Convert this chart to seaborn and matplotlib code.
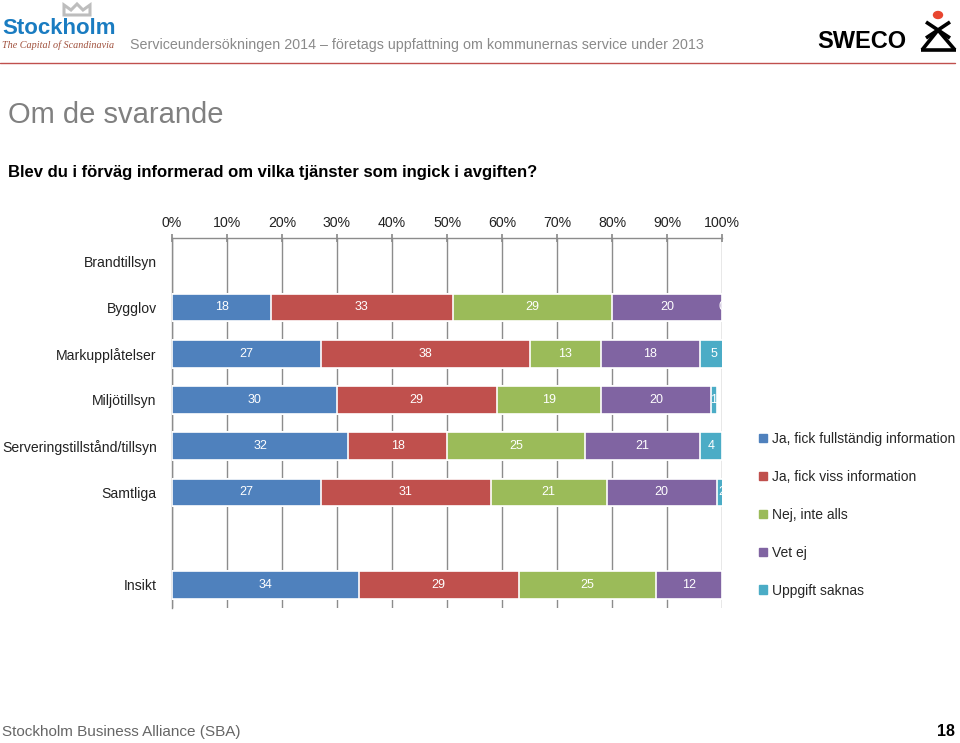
import numpy as np
import pandas as pd
import matplotlib.pyplot as plt
import matplotlib.patches as mpatches
from matplotlib.lines import Line2D
import seaborn as sns

# ── Data ───────────────────────────────────────────────────────────────────────

categories = ["Brandtillsyn", "Bygglov", "Markupplåtelser", "Miljötillsyn",
              "Serveringstillstånd/tillsyn", "Samtliga", " ", "Insikt"]
answers = ["Ja, fick fullständig information", "Ja, fick viss information",
           "Nej, inte alls", "Vet ej", "Uppgift saknas"]

# one list per answer, aligned with the rows that have data
rows_with_data = ["Bygglov", "Markupplåtelser", "Miljötillsyn",
                  "Serveringstillstånd/tillsyn", "Samtliga", "Insikt"]
ja_full = [18, 27, 30, 32, 27, 34]
ja_viss = [33, 38, 29, 18, 31, 29]
nej = [29, 13, 19, 25, 21, 25]
vet_ej = [20, 18, 20, 21, 20, 12]
saknas = [0, 5, 1, 4, 2, np.nan]

x_ticks = list(range(0, 101, 10))
colors = ["#4F81BD", "#C0504D", "#9BBB59", "#8064A2", "#4BACC6"]

# ── Setup ──────────────────────────────────────────────────────────────────────

sns.set_theme(style="white")
plt.rcParams["font.family"] = ["Liberation Sans", "DejaVu Sans"]

fig = plt.figure(figsize=(9.6, 7.43), dpi=100)
ax = fig.add_axes([172 / 960, 1 - 608 / 743, 550 / 960, 370 / 743])

df = pd.DataFrame({"cat": rows_with_data, answers[0]: ja_full, answers[1]: ja_viss,
                   answers[2]: nej, answers[3]: vet_ej, answers[4]: saknas})
cum = df[answers].fillna(0).cumsum(axis=1)

# stacked bars: draw cumulative totals back to front
for i in range(len(answers) - 1, -1, -1):
    layer = pd.DataFrame({"cat": df["cat"], "x": cum[answers[i]]})
    layer = layer[df[answers[i]].notna()]
    sns.barplot(data=layer, y="cat", x="x", order=categories, color=colors[i],
                width=0.6, edgecolor="white", linewidth=1.2, saturation=1,
                ax=ax, zorder=3)

# segment labels
for r, cat in enumerate(df["cat"]):
    y = categories.index(cat)
    for i, a in enumerate(answers):
        v = df.loc[r, a]
        if pd.isna(v):
            continue
        ax.text(cum.loc[r, a] - v / 2, y, f"{v:.0f}", ha="center", va="center",
                color="white", fontsize=9, zorder=4, clip_on=True)

# ── Axes styling ───────────────────────────────────────────────────────────────

ax.set_xlim(0, 100)
ax.set_ylim(len(categories) - 0.5, -0.5)
ax.xaxis.tick_top()
ax.set_xticks(x_ticks)
ax.set_xticklabels([f"{t}%" for t in x_ticks], fontsize=10.2, color="#222222")
ax.tick_params(axis="x", direction="inout", length=6, color="#8c8c8c", pad=3)
ax.grid(axis="x", color="#8c8c8c", linewidth=1, zorder=0)
ax.set_yticks(range(len(categories)))
ax.set_yticklabels(categories, fontsize=10.1, color="#222222")
ax.tick_params(axis="y", length=0, pad=11)
ax.set_yticks(np.arange(-0.5, len(categories) + 0.5, 1), minor=True)
ax.tick_params(axis="y", which="minor", length=4, color="#8c8c8c", direction="out")
ax.set_xlabel("")
ax.set_ylabel("")
for side in ["right", "bottom"]:
    ax.spines[side].set_visible(False)
for side in ["top", "left"]:
    ax.spines[side].set_color("#8c8c8c")
    ax.spines[side].set_linewidth(1)

handles = [mpatches.Patch(color=c, label=a) for c, a in zip(colors, answers)]
fig.legend(handles=handles, loc="upper left", bbox_to_anchor=(759 / 960, 1 - 432 / 743),
           frameon=False, fontsize=10, handlelength=0.55, handleheight=0.55,
           handletextpad=0.35, labelspacing=1.72, borderaxespad=0, borderpad=0)

# ── Slide header / footer ──────────────────────────────────────────────────────

fig.text(2 / 960, 1 - 29 / 743, "Stockholm", fontsize=16, fontweight="bold",
         color="#1A7CC1", va="center")
fig.text(2 / 960, 1 - 45 / 743, "The Capital of Scandinavia", fontsize=7.3,
         style="italic", family="Liberation Serif", color="#A0503C", va="center")
crown = [(64, 15), (64, 5), (71, 10), (77, 4), (83, 10), (90, 5), (90, 15)]
fig.add_artist(mpatches.Polygon([(x / 960, 1 - y / 743) for x, y in crown],
                                closed=True, fill=False, edgecolor="#BDBDBD",
                                linewidth=2.2, transform=fig.transFigure))
fig.text(130 / 960, 1 - 45 / 743,
         "Serviceundersökningen 2014 – företags uppfattning om kommunernas service under 2013",
         fontsize=10.3, color="#8a8a8a", va="center")

fig.text(817 / 960, 1 - 41 / 743, "SWECO", fontsize=17, fontweight="bold",
         color="black", va="center")
logo_lines = [((926, 22), (950, 38)), ((950, 22), (926, 38)),
              ((938, 30), (922, 50)), ((938, 30), (955, 50)), ((921, 50), (956, 50))]
for (x0, y0), (x1, y1) in logo_lines:
    fig.add_artist(Line2D([x0 / 960, x1 / 960], [1 - y0 / 743, 1 - y1 / 743],
                          color="black", linewidth=2.6, transform=fig.transFigure,
                          solid_capstyle="butt"))
fig.add_artist(mpatches.Circle((938 / 960, 1 - 15 / 743), 4.5 / 960, color="#E8452F",
                               transform=fig.transFigure))

fig.add_artist(Line2D([0, 955 / 960], [1 - 63 / 743] * 2, color="#C0504D",
                      linewidth=1, transform=fig.transFigure))

fig.text(8 / 960, 1 - 115 / 743, "Om de svarande", fontsize=21, color="#808080",
         va="center")
fig.text(8 / 960, 1 - 173 / 743,
         "Blev du i förväg informerad om vilka tjänster som ingick i avgiften?",
         fontsize=12, fontweight="bold", color="black", va="center")

fig.text(2 / 960, 1 - 732 / 743, "Stockholm Business Alliance (SBA)", fontsize=11,
         color="#666666", va="center")
fig.text(955 / 960, 1 - 732 / 743, "18", fontsize=11.5, fontweight="bold",
         color="black", va="center", ha="right")

fig.savefig("out.png", dpi=100)
